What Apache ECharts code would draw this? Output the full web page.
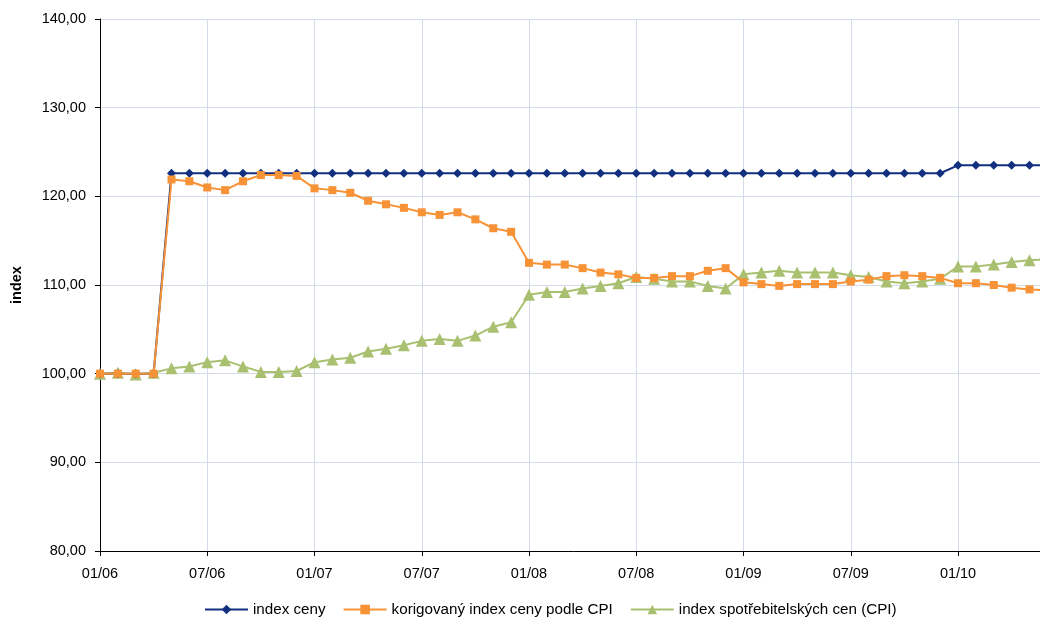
<!DOCTYPE html>
<html>
<head>
<meta charset="utf-8">
<script src="https://cdn.jsdelivr.net/npm/echarts@6/dist/echarts.min.js"></script>
<style>
html,body{margin:0;padding:0;background:#fff;overflow:hidden;width:1040px;height:617px;}
#c{width:1050px;height:617px;}
</style>
</head>
<body>
<div id="c"></div>
<script>
var months = [
 '01/06','02/06','03/06','04/06','05/06','06/06','07/06','08/06','09/06','10/06','11/06','12/06',
 '01/07','02/07','03/07','04/07','05/07','06/07','07/07','08/07','09/07','10/07','11/07','12/07',
 '01/08','02/08','03/08','04/08','05/08','06/08','07/08','08/08','09/08','10/08','11/08','12/08',
 '01/09','02/09','03/09','04/09','05/09','06/09','07/09','08/09','09/09','10/09','11/09','12/09',
 '01/10','02/10','03/10','04/10','05/10','06/10'
];
var indexCeny = [
 100,100,100,100,122.6,122.6,122.6,122.6,122.6,122.6,122.6,122.6,
 122.6,122.6,122.6,122.6,122.6,122.6,122.6,122.6,122.6,122.6,122.6,122.6,
 122.6,122.6,122.6,122.6,122.6,122.6,122.6,122.6,122.6,122.6,122.6,122.6,
 122.6,122.6,122.6,122.6,122.6,122.6,122.6,122.6,122.6,122.6,122.6,122.6,
 123.5,123.5,123.5,123.5,123.5,123.5
];
var korigovany = [
 100,100,100,100,121.9,121.7,121.0,120.7,121.7,122.4,122.4,122.3,
 120.9,120.7,120.4,119.5,119.1,118.7,118.2,117.9,118.2,117.4,116.4,116.0,
 112.5,112.3,112.3,111.9,111.4,111.2,110.8,110.8,111.0,111.0,111.6,111.9,
 110.3,110.1,109.9,110.1,110.1,110.1,110.4,110.6,111.0,111.1,111.0,110.8,
 110.2,110.2,110.0,109.7,109.5,109.4
];
var cpi = [
 100.0,100.1,99.9,100.1,100.6,100.8,101.3,101.5,100.8,100.2,100.2,100.3,
 101.3,101.6,101.8,102.5,102.8,103.2,103.7,103.9,103.7,104.3,105.3,105.8,
 108.9,109.2,109.2,109.6,109.9,110.2,110.9,110.7,110.4,110.4,109.9,109.6,
 111.2,111.4,111.6,111.4,111.4,111.4,111.1,110.9,110.4,110.2,110.4,110.7,
 112.1,112.1,112.3,112.6,112.8,112.9
];
var seriesNames = ['index ceny','korigovaný index ceny podle CPI','index spotřebitelských cen (CPI)'];

var font = '"Liberation Sans", Arial, sans-serif';
var chart = echarts.init(document.getElementById('c'), null, {renderer:'canvas'});
chart.setOption({
  animation:false,
  backgroundColor:'#ffffff',
  grid:{left:100, top:19, width:947.4, height:532},
  legend:{
    left:199, top:597, itemWidth:43, itemHeight:12, itemGap:17,
    textStyle:{fontFamily:font, fontSize:15.2, color:'#000'},
    data:seriesNames
  },
  xAxis:{
    type:'category', data:months, boundaryGap:false,
    axisLine:{lineStyle:{color:'#000', width:1}},
    axisTick:{show:true, interval:5, length:5, inside:false, lineStyle:{color:'#000'}},
    axisLabel:{interval:5, margin:15, fontFamily:font, fontSize:14.5, color:'#000'},
    splitLine:{show:true, interval:5, lineStyle:{color:'#d3dbe8', width:1}}
  },
  yAxis:{
    type:'value', min:80, max:140, interval:10,
    name:'index', nameLocation:'middle', nameGap:76,
    nameTextStyle:{fontFamily:font, fontSize:14.5, fontWeight:'bold', color:'#000'},
    axisLine:{show:true, lineStyle:{color:'#000', width:1}},
    axisTick:{show:true, length:5, lineStyle:{color:'#000'}},
    axisLabel:{margin:14, fontFamily:font, fontSize:14.5, color:'#000',
      formatter:function(v){return v.toFixed(2).replace('.',',');}},
    splitLine:{show:true, lineStyle:{color:'#d3dbe8', width:1}}
  },
  series:[
    {name:seriesNames[0], type:'line', data:indexCeny, symbol:'diamond', symbolSize:9, showAllSymbol:true,
     itemStyle:{color:'#12307f'}, lineStyle:{color:'#12307f', width:2}, z:3},
    {name:seriesNames[1], type:'line', data:korigovany, symbol:'rect', symbolSize:8, showAllSymbol:true,
     itemStyle:{color:'#f79236'}, lineStyle:{color:'#f79236', width:2}, z:4},
    {name:seriesNames[2], type:'line', data:cpi, symbol:'triangle', symbolSize:12, showAllSymbol:true,
     itemStyle:{color:'#a9c071'}, lineStyle:{color:'#a9c071', width:2}, z:2}
  ]
});
</script>
</body>
</html>
